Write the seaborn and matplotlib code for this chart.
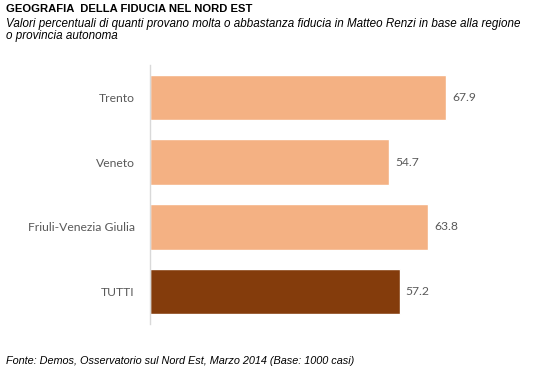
import matplotlib
matplotlib.use("Agg")
import matplotlib.pyplot as plt
import seaborn as sns
import pandas as pd

regioni = ["Trento", "Veneto", "Friuli-Venezia Giulia", "TUTTI"]
valori = [67.9, 54.7, 63.8, 57.2]
colori = ["#F4B183", "#F4B183", "#F4B183", "#843C0C"]

df = pd.DataFrame({"regione": regioni, "valore": valori})

sns.set_style("white")
plt.rcParams["font.family"] = ["Liberation Sans", "DejaVu Sans"]

fig = plt.figure(figsize=(5.45, 3.73), dpi=100)
ax = fig.add_axes([0.275, 0.131, 0.681, 0.695])

sns.barplot(data=df, x="valore", y="regione", hue="regione", palette=colori,
            legend=False, width=0.70, ax=ax, saturation=1)

for i, v in enumerate(valori):
    ax.text(v + 1.4, i, f"{v:.1f}", va="center", ha="left",
            fontsize=8.7, color="#595959", family="Lato")

ax.set_xlim(0, 85)
ax.set_ylim(3.5, -0.5)
ax.set_xlabel("")
ax.set_ylabel("")
ax.set_xticks([])
ax.tick_params(axis="y", length=0, pad=11, labelsize=8.7, labelcolor="#595959")
for lab in ax.get_yticklabels():
    lab.set_family("Lato")
for s in ["top", "right", "bottom"]:
    ax.spines[s].set_visible(False)
ax.spines["left"].set_color("#D9D9D9")
ax.spines["left"].set_linewidth(1)

fig.text(0.011, 0.989, "GEOGRAFIA  DELLA FIDUCIA NEL NORD EST", fontsize=8.1,
         fontweight="bold", va="top", ha="left", color="black")
fig.text(0.011, 0.953, "Valori percentuali di quanti provano molta o abbastanza fiducia in Matteo Renzi in base alla regione\no provincia autonoma",
         fontsize=8.35, style="italic", va="top", ha="left", color="black", linespacing=1.0)
fig.text(0.011, 0.032, "Fonte: Demos, Osservatorio sul Nord Est, Marzo 2014 (Base: 1000 casi)",
         fontsize=7.85, style="italic", va="center", ha="left", color="black")

fig.savefig("out.png", dpi=100)
